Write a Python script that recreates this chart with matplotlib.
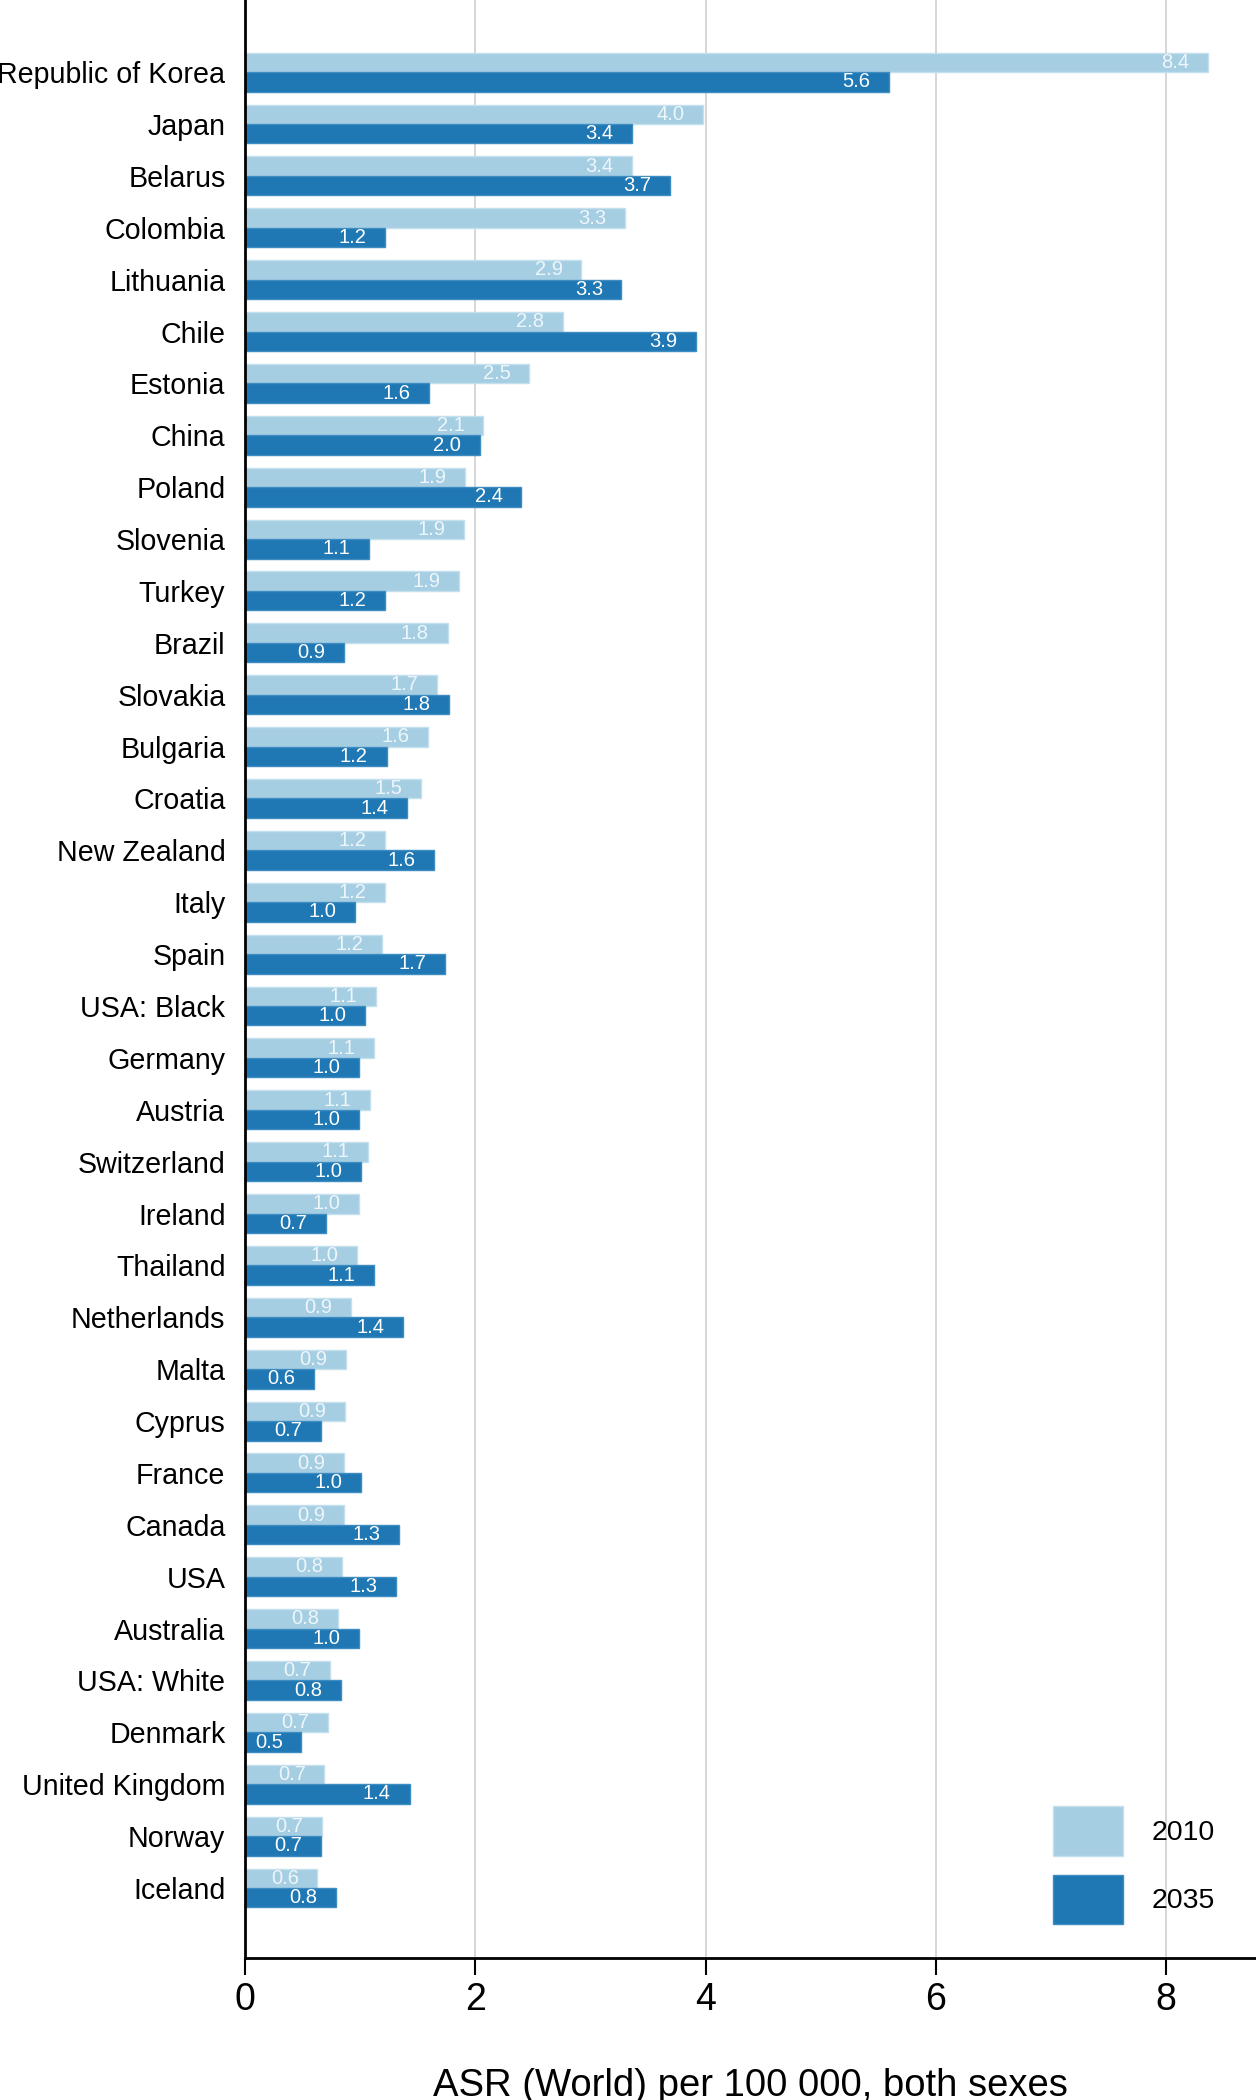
import numpy as np
import matplotlib
matplotlib.use("Agg")
import matplotlib.pyplot as plt

plt.rcParams['font.family'] = ['Liberation Sans', 'DejaVu Sans']

# countries, top to bottom
countries = ["Republic of Korea", "Japan", "Belarus", "Colombia", "Lithuania", "Chile",
             "Estonia", "China", "Poland", "Slovenia", "Turkey", "Brazil", "Slovakia",
             "Bulgaria", "Croatia", "New Zealand", "Italy", "Spain", "USA: Black", "Germany",
             "Austria", "Switzerland", "Ireland", "Thailand", "Netherlands", "Malta", "Cyprus",
             "France", "Canada", "USA", "Australia", "USA: White", "Denmark",
             "United Kingdom", "Norway", "Iceland"]

# ASR (World) per 100 000, both sexes
asr_2010 = [8.36, 3.98, 3.36, 3.30, 2.92, 2.76, 2.47, 2.07, 1.91, 1.90, 1.86, 1.76, 1.67,
            1.59, 1.53, 1.22, 1.22, 1.19, 1.14, 1.12, 1.09, 1.07, 0.99, 0.97, 0.92, 0.88,
            0.87, 0.86, 0.86, 0.84, 0.81, 0.74, 0.72, 0.69, 0.67, 0.63]
asr_2035 = [5.59, 3.36, 3.69, 1.22, 3.27, 3.92, 1.60, 2.04, 2.40, 1.08, 1.22, 0.86, 1.77,
            1.23, 1.41, 1.64, 0.96, 1.74, 1.04, 0.99, 0.99, 1.01, 0.70, 1.12, 1.37, 0.60,
            0.66, 1.01, 1.34, 1.31, 0.99, 0.83, 0.49, 1.43, 0.66, 0.79]

years = ["2010", "2035"]
light = "#a6cee3"
dark = "#1f78b4"

fig = plt.figure(figsize=(12.56, 21), dpi=100)
ax = fig.add_axes([0.195, 0.0676, 0.805, 0.9324])

y = np.arange(len(countries))
h = 0.375
b1 = ax.barh(y - h / 2, asr_2010, height=h, color=light, edgecolor="#c4dfee",
             linewidth=1, label=years[0], zorder=2)
b2 = ax.barh(y + h / 2, asr_2035, height=h, color=dark, edgecolor="#3d8cc2",
             linewidth=1, label=years[1], zorder=2)

# value labels inside the bar ends
for bars, vals, col in [(b1, asr_2010, "#eef6fa"), (b2, asr_2035, "white")]:
    for rect, v in zip(bars, vals):
        ax.annotate(f"{v:.1f}", xy=(v, rect.get_y() + rect.get_height() / 2),
                    xytext=(-23.5, 0), textcoords="offset points",
                    ha="center", va="center", fontsize=14.5, color=col, zorder=3)

ax.set_xlim(0, 8.78)
ax.set_ylim(len(countries) - 1 + 1.35, -1.39)
ax.set_yticks(y)
ax.set_yticklabels(countries, fontsize=20.6)
ax.tick_params(axis="y", length=0, pad=14)
ax.set_xticks([0, 2, 4, 6, 8])
ax.tick_params(axis="x", labelsize=27, length=12, width=1.5, pad=5)
ax.set_xlabel("ASR (World) per 100 000, both sexes", fontsize=27.5, labelpad=36)

ax.xaxis.grid(True, color="#cccccc", linewidth=1.1, zorder=0)
ax.set_axisbelow(True)
for s in ["top", "right"]:
    ax.spines[s].set_visible(False)
for s in ["left", "bottom"]:
    ax.spines[s].set_linewidth(2)
    ax.spines[s].set_zorder(4)

ax.legend(loc="upper left", bbox_to_anchor=(0.8384, 0.14), bbox_transform=fig.transFigure,
          frameon=False, fontsize=20.5, handlelength=2.45, handleheight=2.3,
          labelspacing=0.68, handletextpad=1.0, borderpad=0, borderaxespad=0)

fig.savefig("out.png", dpi=100)
